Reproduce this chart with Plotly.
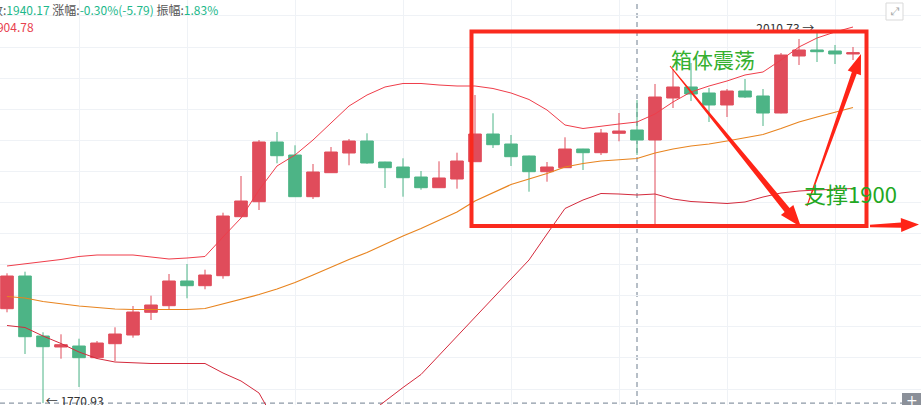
import math
import plotly.graph_objects as go

W, H = 921, 405

# ---------------- data ----------------
opens = [1831.66, 1852.69, 1814.09, 1807.02, 1807.66, 1800.14, 1809.14, 1814.74, 1829.34, 1833.59,
         1849.48, 1846.45, 1852.89, 1890.84, 1900.49, 1938.90, 1930.53, 1903.71, 1919.15, 1931.82,
         1939.54, 1926.03, 1922.81, 1916.38, 1909.50, 1915.09, 1926.22, 1944.04, 1937.61, 1929.89,
         1919.79, 1922.36, 1934.39, 1932.01, 1944.49, 1946.61, 1940.18, 1967.20, 1974.28, 1970.42,
         1962.70, 1971.70, 1968.49, 1957.55, 1994.22, 1998.08, 1997.44, 1995.51]
highs = [1854.43, 1855.46, 1816.48, 1815.19, 1812.36, 1810.88, 1819.69, 1833.39, 1840.02, 1853.98,
         1860.41, 1856.75, 1893.41, 1917.02, 1940.18, 1945.33, 1936.77, 1924.74, 1935.68, 1940.83,
         1944.49, 1926.20, 1928.41, 1920.24, 1926.48, 1932.01, 1969.13, 1957.36, 1943.40, 1930.10,
         1926.03, 1941.92, 1934.50, 1947.26, 1957.55, 1965.91, 1976.21, 1985.86, 1989.72, 1973.63,
         1972.99, 1979.42, 1972.99, 1996.15, 2005.16, 2010.73, 2001.30, 2000.01]
lows = [1829.34, 1802.52, 1770.93, 1799.49, 1781.29, 1799.80, 1798.01, 1813.00, 1824.39, 1831.46,
        1838.35, 1844.14, 1850.96, 1890.50, 1895.15, 1925.19, 1903.50, 1902.23, 1919.00, 1923.91,
        1924.90, 1909.30, 1903.71, 1908.21, 1909.30, 1908.85, 1926.00, 1935.04, 1923.46, 1906.92,
        1913.36, 1922.20, 1920.88, 1930.53, 1939.35, 1930.53, 1886.14, 1960.77, 1965.27, 1951.76,
        1954.98, 1967.20, 1949.19, 1957.30, 1988.43, 1990.36, 1989.07, 1991.65]
closes = [1852.69, 1813.64, 1807.21, 1808.50, 1800.14, 1809.59, 1815.38, 1829.53, 1834.04, 1849.48,
          1846.45, 1853.34, 1891.29, 1900.94, 1938.90, 1930.08, 1903.71, 1919.60, 1932.46, 1939.54,
          1925.39, 1922.36, 1915.93, 1909.50, 1915.74, 1926.67, 1944.04, 1937.16, 1929.44, 1919.79,
          1922.81, 1934.39, 1932.01, 1944.68, 1945.96, 1940.17, 1967.84, 1974.28, 1969.77, 1962.70,
          1971.70, 1967.84, 1957.55, 1994.86, 1998.08, 1996.99, 1995.51, 1996.34]

boll_upper = [1859.13, 1860.41, 1861.70, 1863.31, 1865.24, 1866.20, 1866.20, 1866.20, 1864.92, 1863.63,
              1864.27, 1865.24, 1877.78, 1890.00, 1908.02, 1923.46, 1930.53, 1940.18, 1951.12, 1962.05,
              1969.13, 1974.28, 1976.53, 1976.53, 1975.56, 1974.92, 1974.92, 1973.31, 1970.42, 1966.24,
              1959.48, 1949.83, 1947.58, 1949.19, 1950.47, 1951.76, 1956.91, 1964.63, 1971.06, 1974.92,
              1978.14, 1982.00, 1983.93, 1991.65, 2000.01, 2005.80, 2009.66, 2012.87]
boll_mid = [1839.51, 1838.54, 1836.29, 1834.68, 1833.39, 1832.43, 1831.46, 1831.14, 1831.14, 1831.14,
            1831.14, 1831.79, 1834.68, 1837.58, 1840.79, 1844.33, 1848.51, 1853.34, 1858.48, 1863.31,
            1867.81, 1873.28, 1878.42, 1883.25, 1888.40, 1893.86, 1900.94, 1906.41, 1911.55, 1915.09,
            1918.63, 1922.81, 1925.06, 1926.67, 1927.64, 1928.28, 1931.82, 1934.39, 1936.32, 1937.61,
            1939.54, 1941.79, 1943.72, 1947.58, 1951.76, 1954.98, 1958.19, 1961.09]
boll_lower = [1820.85, 1819.56, 1814.09, 1809.27, 1803.80, 1799.62, 1797.37, 1796.73, 1796.40, 1796.40,
              1796.40, 1796.40, 1790.29, 1785.15, 1777.43, 1756.84, 1747.19, 1743.98, 1747.19, 1753.62,
              1763.27, 1772.28, 1780.96, 1789.33, 1801.55, 1813.77, 1826.00, 1838.54, 1850.76, 1862.99,
              1879.71, 1896.12, 1901.58, 1905.77, 1905.44, 1904.80, 1905.44, 1902.23, 1900.62, 1899.98,
              1899.33, 1900.30, 1903.51, 1906.09, 1907.37, 1908.02, 1908.34, 1908.98]

crosshair_index = 35

x = list(range(len(opens)))

RED = "#e04c5b"
GREEN = "#4db486"

fig = go.Figure()

fig.add_trace(go.Scatter(x=x, y=boll_upper, mode="lines",
                         line=dict(color="#ef3d4a", width=1), hoverinfo="skip"))
fig.add_trace(go.Scatter(x=x, y=boll_mid, mode="lines",
                         line=dict(color="#e8841f", width=1.2), hoverinfo="skip"))
fig.add_trace(go.Scatter(x=x, y=boll_lower, mode="lines",
                         line=dict(color="#d42a3c", width=1), hoverinfo="skip"))

fig.add_trace(go.Candlestick(
    x=x, open=opens, high=highs, low=lows, close=closes,
    increasing=dict(line=dict(color=RED, width=1), fillcolor=RED),
    decreasing=dict(line=dict(color=GREEN, width=1), fillcolor=GREEN),
    whiskerwidth=0, hoverinfo="skip"))

# max / min labels
imax = max(range(len(highs)), key=lambda i: highs[i])
imin = min(range(len(lows)), key=lambda i: lows[i])
fig.add_trace(go.Scatter(x=[imax], y=[highs[imax]], mode="text",
                         text=["%.2f \u2192 " % highs[imax]], textposition="middle left",
                         textfont=dict(family="Noto Sans CJK SC", size=12, color="#333333"),
                         hoverinfo="skip"))
fig.add_trace(go.Scatter(x=[imin], y=[lows[imin]], mode="text",
                         text=[" \u2190 %.2f" % lows[imin]], textposition="middle right",
                         textfont=dict(family="Noto Sans CJK SC", size=12, color="#333333"),
                         hoverinfo="skip"))

# ---------------- layout helpers ----------------
def px(xp):
    return xp / W

def py(yp):
    return 1 - yp / H

def tapered_arrow(s, t, w0, w1, hl, hw):
    dx, dy = t[0] - s[0], t[1] - s[1]
    L = math.hypot(dx, dy)
    ux, uy = dx / L, dy / L
    nx, ny = -uy, ux
    bx, by = t[0] - ux * hl, t[1] - uy * hl
    pts = [(s[0] + nx * w0, s[1] + ny * w0), (bx + nx * w1, by + ny * w1),
           (bx + nx * hw, by + ny * hw), t,
           (bx - nx * hw, by - ny * hw), (bx - nx * w1, by - ny * w1),
           (s[0] - nx * w0, s[1] - ny * w0)]
    path = "M " + " L ".join("%.5f,%.5f" % (px(a), py(b)) for a, b in pts) + " Z"
    return dict(type="path", xref="paper", yref="paper", path=path,
                fillcolor="#ff2417", line=dict(width=0), layer="above")

shapes = [
    dict(type="line", xref="x", yref="paper", x0=crosshair_index, x1=crosshair_index, y0=0, y1=1,
         line=dict(color="#6f7f8f", width=1, dash="5px,4px"), layer="below"),
    dict(type="line", xref="paper", yref="y", x0=0, x1=1, y0=lows[imin], y1=lows[imin],
         line=dict(color="#6f7f8f", width=1, dash="5px,4px"), layer="below"),
    dict(type="rect", xref="paper", yref="paper", x0=px(471.5), x1=px(866.5), y0=py(226), y1=py(31.5),
         line=dict(color="#fa2a1e", width=4), fillcolor="rgba(0,0,0,0)", layer="above"),
    tapered_arrow((670, 66), (801, 227), 0.5, 3.2, 22, 8),
    tapered_arrow((807, 206), (861, 54), 0.5, 2.6, 20, 7),
    tapered_arrow((870, 226), (919, 224.5), 1.2, 2.6, 18, 7),
    # top-right expand icon
    dict(type="rect", xref="paper", yref="paper", x0=px(886), x1=px(903), y0=py(20), y1=py(3),
         line=dict(color="#d9d9d9", width=1), fillcolor="white", layer="above"),
    # bottom-right button
    dict(type="rect", xref="paper", yref="paper", x0=px(902), x1=px(921), y0=py(405), y1=py(393),
         line=dict(width=0), fillcolor="#8b9099", layer="above"),
]

gray = "#555555"
teal = "#1db88b"
sp = "\u00a0"
header = ("<span style='color:%s'>收:</span><span style='color:%s'>1940.17</span>%s"
          "<span style='color:%s'>涨幅:</span><span style='color:%s'>-0.30%%(-5.79)</span>%s"
          "<span style='color:%s'>振幅:</span><span style='color:%s'>1.83%%</span>"
          % (gray, teal, sp, gray, teal, sp, gray, teal))

annotations = [
    dict(xref="paper", yref="paper", x=px(220), y=py(9), xanchor="right", yanchor="middle",
         text=header, showarrow=False, font=dict(family="Noto Sans CJK SC", size=12)),
    dict(xref="paper", yref="paper", x=px(36), y=py(26), xanchor="right", yanchor="middle",
         text="DN:1904.78", showarrow=False,
         font=dict(family="Noto Sans CJK SC", size=12, color="#e8414e")),
    dict(xref="paper", yref="paper", x=px(669), y=py(59), xanchor="left", yanchor="middle",
         text="箱体震荡", showarrow=False,
         font=dict(family="Noto Sans CJK SC", size=21, color="#35b02f")),
    dict(xref="paper", yref="paper", x=px(802), y=py(193), xanchor="left", yanchor="middle",
         text="支撑1900", showarrow=False,
         font=dict(family="Noto Sans CJK SC", size=22, color="#22a822")),
    dict(xref="paper", yref="paper", x=px(895), y=py(11.5), xanchor="center", yanchor="middle",
         text="\u2922", showarrow=False, font=dict(family="DejaVu Sans", size=11, color="#aaaaaa")),
    dict(xref="paper", yref="paper", x=px(911.5), y=py(400), xanchor="center", yanchor="middle",
         text="+", showarrow=False, font=dict(family="DejaVu Sans", size=14, color="white")),
]

y_bottom = 1780 - (405 - 389) / 1.5545
y_top = 1780 + 389 / 1.5545

fig.update_layout(
    width=W, height=H, margin=dict(l=0, r=0, t=0, b=0),
    paper_bgcolor="white", plot_bgcolor="white", showlegend=False,
    boxgap=0.3, boxgroupgap=0,
    shapes=shapes, annotations=annotations,
    xaxis=dict(range=[-7 / 18, (W - 7) / 18], showgrid=True, gridcolor="#eff2f6", gridwidth=1,
               tick0=4, dtick=6, showticklabels=False, ticks="", zeroline=False, showline=False,
               rangeslider=dict(visible=False), fixedrange=True),
    yaxis=dict(range=[y_bottom, y_top], showgrid=True, gridcolor="#eff2f6", gridwidth=1,
               tick0=1780, dtick=20, showticklabels=False, ticks="", zeroline=False, showline=False,
               fixedrange=True),
)

fig.write_html("out.html", config=dict(displayModeBar=False),
               post_script="document.body.style.margin='0px';document.body.style.overflow='hidden';")
